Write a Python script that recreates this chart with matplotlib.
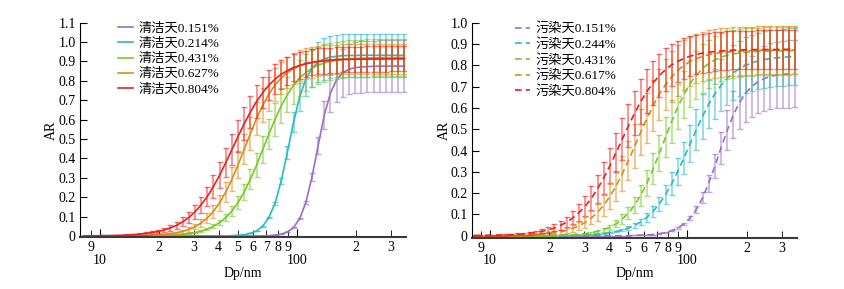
import numpy as np # numbers
import matplotlib.pyplot as plt # graphs
from matplotlib.ticker import FixedLocator, FuncFormatter

# CJK characters fall back to Noto Sans CJK
plt.rcParams['font.family'] = ['Liberation Serif', 'Noto Sans CJK SC']

# Particle diameter of each size bin (nm)
dp = [8.32, 8.94, 9.61, 10.32, 11.09, 11.92, 12.81, 13.76, 14.79, 15.89, 17.08, 18.35, 19.72,
      21.20, 22.78, 24.48, 26.30, 28.27, 30.37, 32.64, 35.08, 37.69, 40.50, 43.53, 46.77, 50.26,
      54.01, 58.04, 62.37, 67.03, 72.03, 77.40, 83.18, 89.38, 96.05, 103.22, 110.92, 119.19,
      128.09, 137.64, 147.91, 158.95, 170.80, 183.55, 197.24, 211.96, 227.78, 244.77, 263.03,
      282.66, 303.75, 326.41, 350.77]

colors = ['#9b6ec8', '#28b9c3', '#78c828', '#dc8c14', '#f01e1e']
clean_labels = ['清洁天0.151%', '清洁天0.214%', '清洁天0.431%', '清洁天0.627%', '清洁天0.804%']
poll_labels = ['污染天0.151%', '污染天0.244%', '污染天0.431%', '污染天0.617%', '污染天0.804%']

# Activation ratio AR (x1000) and its error bar half-length (x1000), clean days
clean_ar = [
    [0] * 29 + [1, 2, 5, 10, 21, 44, 90, 173, 304, 468, 624, 738, 806, 842, 860, 868, 872, 874, 875] + [876] * 5,
    [0] * 23 + [1, 2, 4, 7, 14, 26, 51, 95, 170, 284, 432, 587, 718, 809, 865, 897, 914, 923, 927, 930,
                931, 931] + [932] * 8,
    [0] * 8 + [1, 1, 1, 2, 2, 3, 5, 6, 9, 13, 18, 25, 36, 50, 69, 95, 129, 173, 228, 293, 366, 446, 526,
               602, 671, 729, 777, 815, 843, 865, 881, 892, 901, 907, 911, 914, 916, 917, 918, 919, 920,
               920, 920] + [921] * 2,
    [0] * 6 + [1, 1, 1, 2, 3, 4, 6, 8, 12, 17, 24, 34, 48, 67, 93, 127, 172, 227, 293, 368, 448, 529, 606,
               674, 732, 779, 815, 843, 863, 878, 889, 896, 902, 906, 909, 910, 912, 913, 913, 914, 914,
               914] + [915] * 5,
    [1, 1, 1, 2, 2, 3, 4, 5, 7, 10, 13, 18, 23, 31, 42, 55, 73, 96, 125, 161, 204, 256, 314, 379, 446, 514,
     580, 640, 694, 740, 778, 809, 834, 853, 868, 880, 888, 895, 900, 903, 906, 908, 910, 911, 912, 912,
     913, 913, 913, 913] + [914] * 3,
]
clean_err = [
    [0] * 33 + [1, 1, 3, 8, 21, 43, 71, 97, 114, 124, 129, 131, 132] + [133] * 7,
    [0] * 28 + [1, 2, 4, 8, 17, 33, 53, 72, 88, 98, 103, 107, 108, 109] + [110] * 11,
    [0] * 13 + [1, 1, 1, 2, 3, 4, 5, 7, 10, 14, 19, 25, 33, 42, 52, 62, 71, 79, 85, 90, 92, 94, 95] + [96] * 17,
    [0] * 8 + [1, 1, 1, 2, 2, 3, 4, 6, 8, 11, 14, 19, 25, 33, 42, 51, 61, 71, 79, 84, 87, 87, 87, 85, 84,
               82, 81, 80, 79, 79, 78, 78, 78] + [77] * 12,
    [1, 1, 1, 1, 1, 2, 2, 3, 3, 4, 6, 7, 9, 11, 14, 18, 23, 28, 35, 42, 51, 59, 67, 74, 79, 83, 84, 84, 83,
     81, 78, 76, 74, 72, 70, 69, 68, 67, 67, 66, 66, 66, 66] + [65] * 10,
]

# Same for polluted days
poll_ar = [
    [0] * 24 + [1, 1, 2, 3, 4, 6, 10, 15, 24, 37, 56, 84, 124, 178, 247, 327, 413, 495, 568, 626, 670, 702,
                723, 738, 748, 754, 758, 760] + [762],
    [0] * 12 + [1, 1, 1, 2, 2, 3, 4, 6, 8, 11, 14, 20, 27, 36, 49, 65, 87, 115, 150, 193, 244, 303, 366,
                433, 498, 561, 617, 666, 706, 739, 765, 785, 800, 812, 821, 827, 832, 835, 838, 840] + [841],
    [0] * 10 + [1, 1, 1, 2, 3, 4, 5, 7, 10, 15, 21, 29, 40, 56, 78, 107, 144, 191, 248, 314, 387, 463, 537,
                605, 665, 715, 754, 785, 808, 825, 838, 847, 853, 858, 861, 863, 865, 866, 867, 868, 868,
                868] + [869],
    [0] * 3 + [1, 1, 1, 2, 2, 3, 4, 6, 8, 11, 14, 19, 26, 35, 47, 63, 84, 110, 144, 185, 234, 291, 353, 420,
               487, 552, 612, 664, 709, 746, 776, 800, 818, 831, 842, 850, 855, 860, 863, 865, 867, 868,
               869, 870, 871, 871, 871, 871] + [872] * 2,
    [1, 1, 2, 2, 3, 4, 5, 7, 9, 12, 16, 21, 28, 37, 49, 64, 84, 109, 139, 177, 221, 272, 329, 391, 454, 516,
     576, 630, 678, 718, 752, 780, 802, 819, 832, 843, 851, 857, 861, 865, 867, 869, 871, 872, 873, 873,
     874, 874, 874, 874] + [875] * 3,
]
poll_err = [
    [0] * 30 + [1, 1, 2, 4, 6, 10, 17, 26, 40, 56, 75, 94, 111, 125, 136, 143, 149, 152, 155, 156,
                157] + [158] * 2,
    [0] * 17 + [1, 1, 1, 2, 2, 3, 4, 6, 8, 11, 15, 20, 26, 34, 43, 53, 64, 75, 86, 96, 105, 112, 118, 122,
                125, 128, 129, 131, 132, 132, 133, 133, 133, 133] + [134] * 2,
    [0] * 13 + [1, 1, 1, 2, 3, 3, 5, 7, 9, 12, 17, 23, 30, 39, 49, 61, 73, 84, 93, 101, 106, 110, 111, 112,
                113, 113, 113, 113] + [112] * 12,
    [0] * 4 + [1, 1, 1, 1, 2, 2, 3, 4, 5, 7, 9, 11, 15, 19, 25, 31, 39, 49, 59, 71, 82, 93, 103, 110, 116,
               119, 120, 120, 120, 119, 118, 117, 116, 115, 115, 114, 114, 114, 114] + [113] * 10,
    [1, 1, 1, 2, 2, 3, 3, 4, 5, 7, 8, 10, 13, 16, 20, 25, 31, 38, 46, 55, 65, 74, 83, 91, 97, 101, 103, 104,
     103, 102, 100, 99, 97, 96, 94, 93, 93, 92, 91, 91, 91, 91] + [90] * 11,
]

fig = plt.figure(figsize=(8.45, 2.89), dpi=100)
ax1 = fig.add_axes([80 / 845, 51.8 / 289, 326 / 845, 214.5 / 289])
ax2 = fig.add_axes([472 / 845, 51.3 / 289, 325 / 845, 215 / 289])

panels = [
    (ax1, clean_ar, clean_err, clean_labels, '-', (7.92, 357.5), (-0.006, 1.1), 0.117, 0.5),
    (ax2, poll_ar, poll_err, poll_labels, (0, (4, 2.5)), (8.11, 358.5), (-0.009, 1.0), 0.132, 0),
]

for ax, ars, errs, labels, ls, xl, yl, lx, lp in panels:
    for ar, err, c, lab in zip(ars, errs, colors, labels):
        ar = np.array(ar) / 1000
        err = np.array(err) / 1000
        ax.errorbar(dp, ar, yerr=err, fmt='none', ecolor=c, elinewidth=1.1, capsize=2.3, alpha=0.6)
        ax.plot(dp, ar, color=c, lw=1.2, ls=ls, label=lab)

    ax.set_xscale('log')
    ax.set_xlim(*xl)
    ax.set_ylim(*yl)
    # 10 and 100 labelled lower, the other decades' digits higher
    ax.xaxis.set_major_locator(FixedLocator([10, 100]))
    ax.xaxis.set_minor_locator(FixedLocator([9, 20, 30, 40, 50, 60, 70, 80, 90, 200, 300]))
    ax.xaxis.set_major_formatter(FuncFormatter(lambda v, pos: f'{v:g}'))
    ax.xaxis.set_minor_formatter(FuncFormatter(lambda v, pos: f'{v:g}'[0]))
    ax.tick_params(axis='x', which='major', direction='in', length=6, pad=12, labelsize=10)
    ax.tick_params(axis='x', which='minor', direction='in', length=5, pad=3, labelsize=10)

    yt = np.arange(0, yl[1] + 0.001, 0.1)
    ax.set_yticks(yt)
    ax.set_yticklabels(['0' if v < 0.01 else f'{v:.1f}' for v in yt])
    ax.tick_params(axis='y', direction='in', length=5, labelsize=10, pad=3)

    ax.spines['top'].set_visible(False)
    ax.spines['right'].set_visible(False)
    ax.spines['bottom'].set_linewidth(1.5)
    ax.spines['bottom'].set_color('#3a3a3a')
    ax.set_xlabel('Dp/nm', fontsize=10, labelpad=0)
    ax.set_ylabel('AR', fontsize=10, labelpad=lp)
    ax.legend(loc='upper left', bbox_to_anchor=(lx, 1.0), frameon=False, fontsize=9.5,
              handlelength=1.15, handletextpad=0.4, labelspacing=0.22, borderpad=0, borderaxespad=0)

fig.savefig('out.png', dpi=100)
